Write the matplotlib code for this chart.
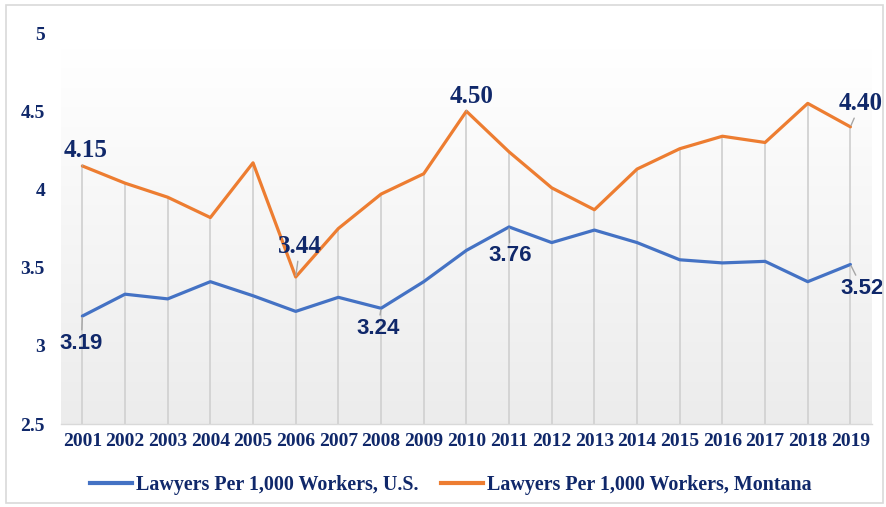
import numpy as np
import matplotlib
matplotlib.use("Agg")
import matplotlib.pyplot as plt
from matplotlib.patches import Rectangle
from matplotlib.lines import Line2D

years = [2001, 2002, 2003, 2004, 2005, 2006, 2007, 2008, 2009, 2010,
         2011, 2012, 2013, 2014, 2015, 2016, 2017, 2018, 2019]
us = [3.19, 3.33, 3.30, 3.41, 3.32, 3.22, 3.31, 3.24, 3.41, 3.61,
      3.76, 3.66, 3.74, 3.66, 3.55, 3.53, 3.54, 3.41, 3.52]
montana = [4.15, 4.04, 3.95, 3.82, 4.17, 3.44, 3.75, 3.97, 4.10, 4.50,
           4.24, 4.01, 3.87, 4.13, 4.26, 4.34, 4.30, 4.55, 4.40]
yticks = [2.5, 3, 3.5, 4, 4.5, 5]
ytick_labels = ["2.5", "3", "3.5", "4", "4.5", "5"]
series_names = ["Lawyers Per 1,000 Workers, U.S.", "Lawyers Per 1,000 Workers, Montana"]

# labelled points: (year, dx px, dy px (up positive), font kind)
us_labels = [(2001, -1, -27, "sans"), (2008, -3, -20, "sans"),
             (2011, 1, -29, "sans"), (2019, 12, -24, "sans")]
mt_labels = [(2001, 3, 15, "serif"), (2006, 4, 30, "serif"),
             (2010, 5, 15, "serif"), (2019, 10, 23, "serif")]

NAVY = "#10286a"
BLUE = "#4472C4"
ORANGE = "#ED7D31"
SERIF = ["Liberation Serif", "DejaVu Serif"]
SANS = ["Liberation Sans", "DejaVu Sans"]

fig = plt.figure(figsize=(8.87, 5.07), dpi=100)
fig.patch.set_facecolor("white")
fig.add_artist(Rectangle((0.007, 0.008), 0.988, 0.982, transform=fig.transFigure,
                         fill=False, edgecolor="#d9d9d9", lw=1.2))

ax = fig.add_axes([0.0688, 0.1637, 0.914, 0.7712])

# gradient background
grad = np.linspace(0, 1, 256)
top = np.array([1.0, 1.0, 1.0])
bot = np.array([0.925, 0.925, 0.925])
img = (top[None, :] + (bot - top)[None, :] * grad[:, None]).reshape(256, 1, 3)
ax.imshow(img, extent=[2000.5, 2019.5, 2.5, 4.9],
          aspect="auto", origin="upper", zorder=0)
ax.set_xlim(2000.5, 2019.5)
ax.set_ylim(2.5, 5)
ax.set_facecolor("none")

ax.vlines(years, 2.5, montana, color="#d2d2d2", lw=1.3, zorder=1)

ax.plot(years, us, color=BLUE, lw=2.3, zorder=3, solid_capstyle="round")
ax.plot(years, montana, color=ORANGE, lw=2.3, zorder=3, solid_capstyle="round")

px = 0.72
for data, labels in ((us, us_labels), (montana, mt_labels)):
    for (yr, dx, dy, kind) in labels:
        v = data[years.index(yr)]
        fam = SERIF if kind == "serif" else SANS
        size = 18 if kind == "serif" else 16
        ax.annotate(f"{v:.2f}", xy=(yr, v), xytext=(dx * px, dy * px),
                    textcoords="offset points", ha="center", va="center",
                    fontsize=size, fontweight="bold", family=fam, color=NAVY,
                    arrowprops=dict(arrowstyle="-", color="#a6a6a6", lw=1.0,
                                    shrinkA=0, shrinkB=1),
                    zorder=5)

for s in ["top", "right", "left"]:
    ax.spines[s].set_visible(False)
ax.spines["bottom"].set_color("#d9d9d9")
ax.spines["bottom"].set_linewidth(1.0)

ax.set_xticks(years)
ax.set_xticklabels([str(y) for y in years])
ax.set_yticks(yticks)
ax.set_yticklabels(ytick_labels)
ax.tick_params(axis="both", length=0, colors=NAVY)
ax.tick_params(axis="y", pad=11.5)
ax.tick_params(axis="x", pad=6.5)
for lab in ax.get_xticklabels() + ax.get_yticklabels():
    lab.set_family(SERIF)
    lab.set_fontweight("bold")
    lab.set_fontsize(14)
    lab.set_color(NAVY)

handles = [Line2D([], [], color=BLUE, lw=3), Line2D([], [], color=ORANGE, lw=3)]
leg = fig.legend(handles, series_names, loc="center", bbox_to_anchor=(0.508, 0.043),
                 ncol=2, frameon=False, handlelength=2.1, handletextpad=0.2,
                 columnspacing=1.1, prop={"family": SERIF, "weight": "bold", "size": 14.4})
for t in leg.get_texts():
    t.set_color(NAVY)

fig.savefig("out.png", dpi=100)
